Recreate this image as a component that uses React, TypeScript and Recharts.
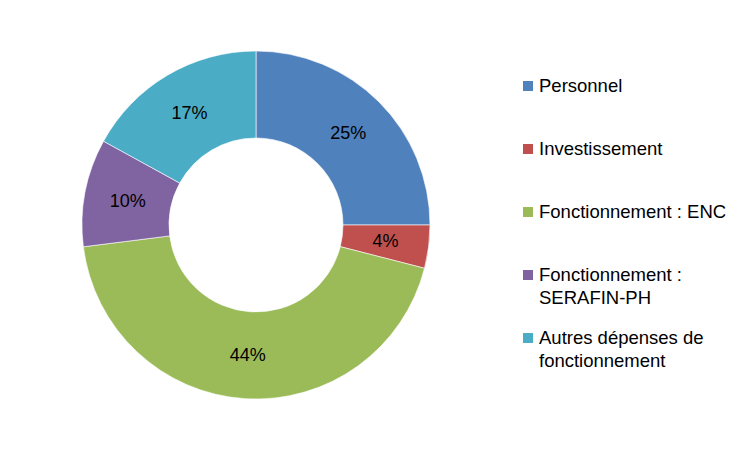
import React from 'react';
import { PieChart, Pie, Cell, Legend } from 'recharts';

const categories = [
  'Personnel',
  'Investissement',
  'Fonctionnement : ENC',
  'Fonctionnement : SERAFIN-PH',
  'Autres dépenses de fonctionnement',
];
const shares = [25, 4, 44, 10, 17];
const COLORS = ['#4F81BD', '#C0504D', '#9BBB59', '#8064A2', '#4BACC6'];

const data = categories.map((name, i) => ({ name, value: shares[i] }));

const FONT = '"Liberation Sans", Arial, sans-serif';
const RAD = Math.PI / 180;

const renderLabel = (props: any) => {
  const { cx, cy, midAngle, innerRadius, outerRadius, value } = props;
  const r = (innerRadius + outerRadius) / 2;
  const x = cx + r * Math.cos(-midAngle * RAD);
  const y = cy + r * Math.sin(-midAngle * RAD);
  return (
    <text x={x} y={y} textAnchor="middle" dominantBaseline="central" fill="#000" fontSize={18} fontFamily={FONT}>
      {`${value}%`}
    </text>
  );
};

// legend drawn in data order (recharts would reorder it)
const renderLegend = () => (
  <div style={{ fontFamily: FONT, fontSize: 18.5, color: '#000' }}>
    {data.map((entry, i) => (
      <div key={`leg-${i}`} style={{ position: 'relative', height: 63, paddingLeft: 16, width: 205 }}>
        <div style={{ position: 'absolute', left: 0, top: 7, width: 10, height: 10, backgroundColor: COLORS[i] }} />
        <div style={{ lineHeight: '23px' }}>{entry.name}</div>
      </div>
    ))}
  </div>
);

export default function App() {
  return (
    <div style={{ position: 'fixed', left: 0, top: 0, width: 750, height: 450, background: '#fff' }}>
      <PieChart width={750} height={450} margin={{ top: 0, right: 0, bottom: 0, left: 0 }}>
        <Pie
          data={data}
          dataKey="value"
          nameKey="name"
          cx={256}
          cy={225}
          innerRadius={87}
          outerRadius={174}
          startAngle={90}
          endAngle={-270}
          stroke="#fff"
          strokeWidth={0.6}
          label={renderLabel}
          labelLine={false}
          isAnimationActive={false}
        >
          {data.map((_, i) => <Cell key={`cell-${i}`} fill={COLORS[i]} />)}
        </Pie>
        <Legend
          layout="vertical"
          align="right"
          verticalAlign="top"
          content={renderLegend}
          wrapperStyle={{ left: 523, top: 74, width: 220 }}
        />
      </PieChart>
    </div>
  );
}
